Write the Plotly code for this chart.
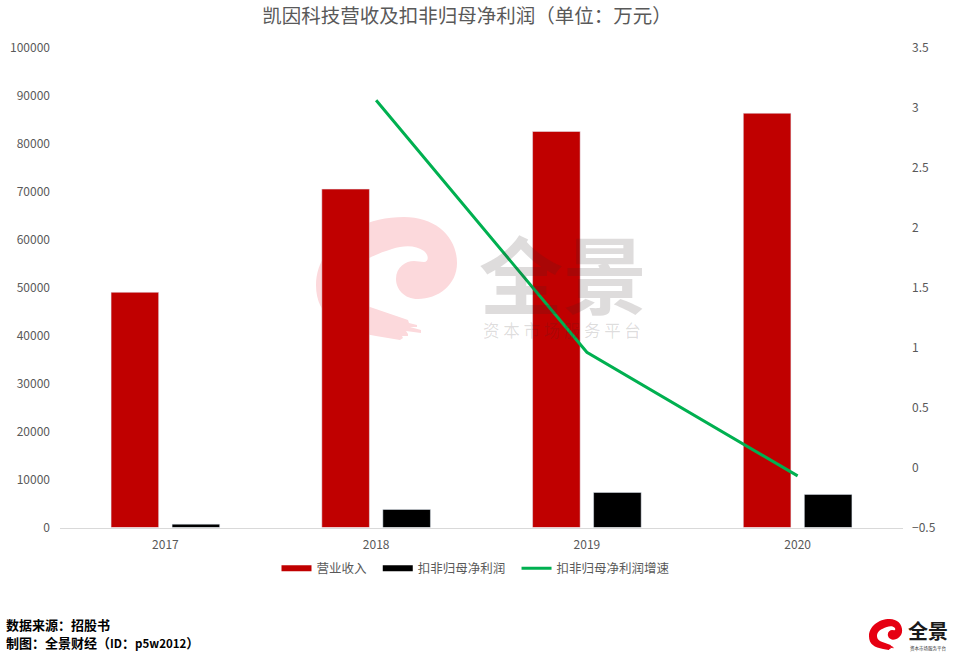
import plotly.graph_objects as go

years = ["2017", "2018", "2019", "2020"]
revenue = [49000, 70500, 82500, 86300]
net_profit = [700, 3750, 7300, 6900]
growth = [None, 3.06, 0.96, -0.07]
title_text = "凯因科技营收及扣非归母净利润（单位：万元）"
source_lines = ["数据来源：招股书", "制图：全景财经（<span style=\"font-size:11.5px\">ID</span>：<span style=\"font-size:11.5px\">p5w2012</span>）"]

W, H = 954, 656
L, R, T, B = 60, 903, 47.5, 527.5
FONT = "Noto Sans CJK SC"
GREY = "#595959"


def swirl(ox, oy, s, sy=None):
    """Watermark logo outline, built in pixels of a 141x123 box and placed on the page."""
    sy = sy or s
    def p(x, y):
        return f"{(ox + x * s) / W:.5f},{1 - (oy + y * sy) / H:.5f}"
    return (
        f"M{p(84,123)} L{p(60,119)} C{p(24,112)} {p(0,100)} {p(0,68)} "
        f"C{p(0,30)} {p(40,0)} {p(88,0)} C{p(120,0)} {p(141,20)} {p(141,46)} "
        f"C{p(141,68)} {p(122,82)} {p(102,82)} C{p(88,82)} {p(80,72)} {p(80,62)} "
        f"C{p(80,50)} {p(90,44)} {p(98,44)} L{p(108,45)} C{p(113,45)} {p(113,38)} {p(108,34)} "
        f"C{p(100,28)} {p(88,28)} {p(76,32)} C{p(50,40)} {p(34,50)} {p(34,68)} "
        f"C{p(34,80)} {p(44,86)} {p(54,90)} L{p(92,103)} L{p(93,106)} L{p(101,108)} L{p(101,110)} "
        f"L{p(94,110)} L{p(105,113)} L{p(105,116)} L{p(90,114)} L{p(92,117)} L{p(92,119)} L{p(86,119)} L{p(87,121)} Z"
    )


fig = go.Figure()
fig.add_bar(x=years, y=revenue, name="营业收入", marker_color="#C00000", showlegend=False)
fig.add_bar(x=years, y=net_profit, name="扣非归母净利润", marker_color="#000000", showlegend=False)
fig.add_scatter(x=years, y=growth, name="扣非归母净利润增速", mode="lines", yaxis="y2",
                line=dict(color="#00B050", width=3), showlegend=False)
# legend keys: wide swatches as in the reference
for name, color, width in [("营业收入\u2002", "#C00000", 6), ("扣非归母净利润\u2002", "#000000", 6),
                           ("扣非归母净利润增速", "#00B050", 3)]:
    fig.add_scatter(x=[None], y=[None], name=name, mode="lines",
                    line=dict(color=color, width=width))

ann = [
    dict(text="<b>全景</b>", x=562.5 / W, y=1 - 271 / H, size=84, color="rgba(50,40,40,0.16)", height=90),
    dict(text="资 本 市 场 服 务 平 台", x=561.5 / W, y=1 - 330 / H, size=16.5, color="rgba(50,40,40,0.16)", height=None),
    dict(text="<b>全景</b>", x=928 / W, y=1 - 630 / H, size=20, color="#1a1a1a", height=None),
    dict(text="资本市场服务平台", x=928 / W, y=1 - 648 / H, size=4.5, color="#333333", height=None),
]
annotations = [dict(text=a["text"], x=a["x"], y=a["y"], xref="paper", yref="paper", showarrow=False,
                    height=a["height"], xanchor="center", yanchor="middle",
                    font=dict(size=a["size"], color=a["color"], family=FONT))
               for a in ann]
for line, py in zip(source_lines, [624, 642]):
    annotations.append(dict(text=f"<b>{line}</b>", x=4 / W, y=1 - py / H, xref="paper", yref="paper",
                            showarrow=False, xanchor="left", yanchor="middle", align="left",
                            font=dict(size=13, color="#000000", family=FONT)))

fig.update_layout(
    width=W, height=H, paper_bgcolor="white", plot_bgcolor="rgba(0,0,0,0)",
    margin=dict(l=0, r=0, t=0, b=0, autoexpand=False),
    font=dict(family=FONT, size=12, color=GREY),
    title=dict(text=title_text, x=467 / W, xanchor="center", y=1 - 16 / H, yanchor="middle",
               font=dict(size=19.5, color=GREY, family=FONT)),
    barmode="group", bargap=0.421, bargroupgap=0.22,
    xaxis=dict(domain=[L / W, R / W], showgrid=False, showline=True, linecolor="#D9D9D9", linewidth=1,
               ticks="", type="category", tickfont=dict(size=12, color=GREY), ticklabelstandoff=6),
    yaxis=dict(domain=[1 - B / H, 1 - T / H], range=[0, 100000], dtick=10000, showgrid=False,
               showline=False, zeroline=False, tickfont=dict(size=12, color=GREY), ticklabelstandoff=9,
               anchor="x", tickformat="d"),
    yaxis2=dict(domain=[1 - B / H, 1 - T / H], range=[-0.5, 3.5], dtick=0.5, overlaying="y", side="right",
                showgrid=False, showline=False, zeroline=False, tickfont=dict(size=12, color=GREY),
                ticklabelstandoff=8, anchor="x"),
    legend=dict(orientation="h", x=476 / W, xanchor="center", y=1 - 568.5 / H, yanchor="middle",
                font=dict(size=12.5, color=GREY), bgcolor="rgba(0,0,0,0)", itemclick=False),
    annotations=annotations,
    shapes=[
        dict(type="path", xref="paper", yref="paper", layer="below", path=swirl(316, 217, 1.0),
             fillcolor="#FCD9DC", line=dict(width=0)),
        dict(type="path", xref="paper", yref="paper", layer="above", path=swirl(869, 619, 0.235, 0.252),
             fillcolor="#E60012", line=dict(width=0)),
    ],
)
fig.write_html("out.html", config={"displayModeBar": False}, post_script="document.body.style.margin='0';")
